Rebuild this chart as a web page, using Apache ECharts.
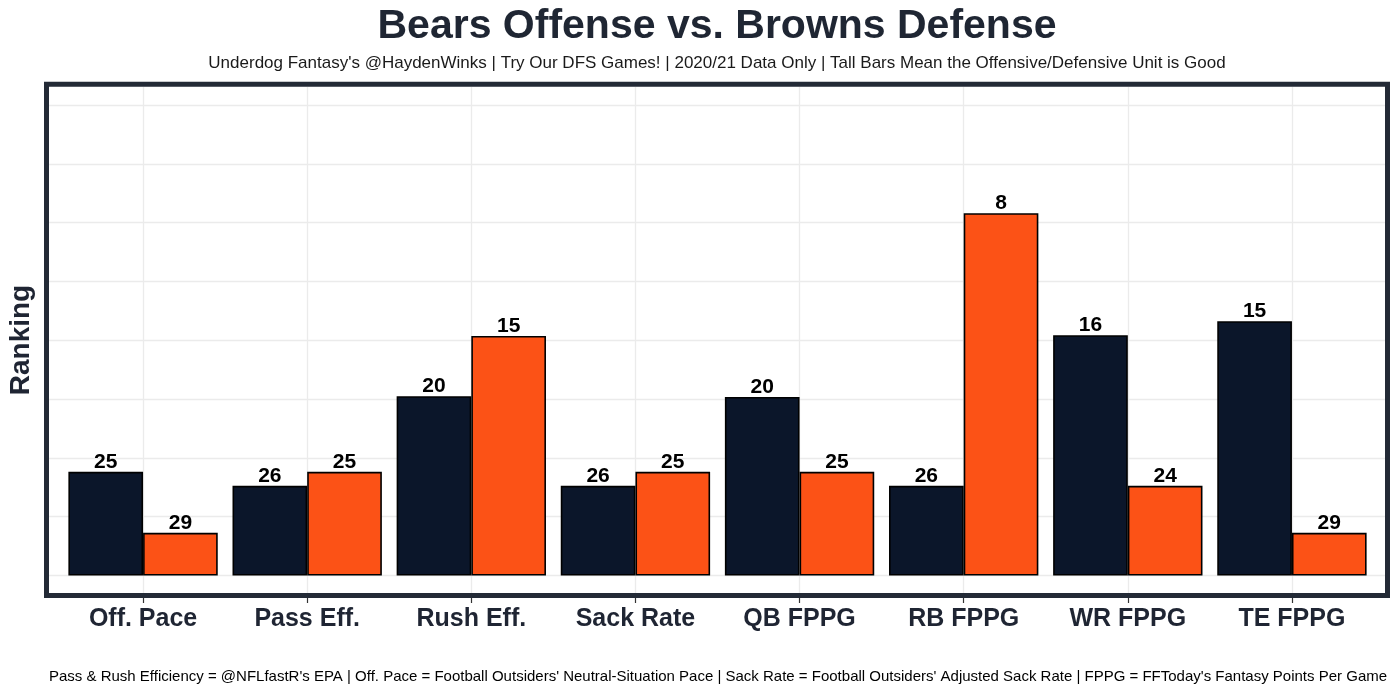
<!DOCTYPE html>
<html>
<head>
<meta charset="utf-8">
<script src="https://cdn.jsdelivr.net/npm/echarts@6/dist/echarts.min.js"></script>
<style>
html,body{margin:0;padding:0;background:#fff;}
#chart{width:1400px;height:694px;}
</style>
</head>
<body>
<div id="chart"></div>
<script>
// ---- data ----
const categories = ['Off. Pace', 'Pass Eff.', 'Rush Eff.', 'Sack Rate', 'QB FPPG', 'RB FPPG', 'WR FPPG', 'TE FPPG'];
const offenseValues = [7.05, 6.1, 12.2, 6.1, 12.15, 6.1, 16.35, 17.3];
const defenseValues = [2.9, 7.05, 16.3, 7.05, 7.05, 24.65, 6.1, 2.9];
const offenseRanks = [25, 26, 20, 26, 20, 26, 16, 15];
const defenseRanks = [29, 25, 15, 25, 25, 8, 24, 29];
const yGridValues = [0, 4, 8, 12, 16, 20, 24, 28, 32];

const titleText = 'Bears Offense vs. Browns Defense';
const subtitleText = "Underdog Fantasy's @HaydenWinks | Try Our DFS Games! | 2020/21 Data Only | Tall Bars Mean the Offensive/Defensive Unit is Good";
const footerText = "Pass & Rush Efficiency = @NFLfastR's EPA | Off. Pace = Football Outsiders' Neutral-Situation Pace | Sack Rate = Football Outsiders' Adjusted Sack Rate | FPPG = FFToday's Fantasy Points Per Game";
const yTitle = 'Ranking';

// ---- chart ----
const FONT = '"Liberation Sans", Arial, Helvetica, sans-serif';
const chart = echarts.init(document.getElementById('chart'), null, {renderer: 'canvas'});
const yMin = -1.19, yMax = 33.23;

const gridLineData = categories.map((c, i) => ({xAxis: i}))
  .concat(yGridValues.map(v => ({yAxis: v})));

const labelStyle = {
  show: true, position: 'top', distance: -1,
  fontFamily: FONT, fontWeight: 'bold', fontSize: 21, color: '#000'
};

chart.setOption({
  animation: false,
  backgroundColor: '#fff',
  grid: [
    {left: 49, right: 15, top: 87, bottom: 101},
    {left: 61, right: 26, top: 87, bottom: 101}
  ],
  xAxis: [
    {gridIndex: 0, type: 'value', min: -0.573, max: 7.567, show: false},
    {gridIndex: 1, type: 'category', data: categories, position: 'bottom',
      axisLine: {show: false, onZero: false},
      axisTick: {show: true, alignWithLabel: true, length: 10, lineStyle: {color: '#333', width: 1.2}},
      axisLabel: {margin: 14, fontFamily: FONT, fontWeight: 'bold', fontSize: 25, color: '#1f2533'},
      splitLine: {show: false}}
  ],
  yAxis: [
    {gridIndex: 0, type: 'value', min: yMin, max: yMax, show: false},
    {gridIndex: 1, type: 'value', min: yMin, max: yMax, show: false}
  ],
  series: [
    {type: 'line', xAxisIndex: 0, yAxisIndex: 0, data: [], z: 0, silent: true,
      markLine: {silent: true, z: 0, symbol: ['none', 'none'], label: {show: false},
        lineStyle: {color: '#ebebeb', width: 1.3, type: 'solid'},
        data: gridLineData}},
    {name: 'Offense', type: 'bar', xAxisIndex: 1, yAxisIndex: 1, z: 2,
      data: offenseValues, barGap: '0%', barCategoryGap: '9%',
      itemStyle: {color: '#0b162a', borderColor: '#000', borderWidth: 1.6},
      label: Object.assign({formatter: p => String(offenseRanks[p.dataIndex])}, labelStyle)},
    {name: 'Defense', type: 'bar', xAxisIndex: 1, yAxisIndex: 1, z: 2,
      data: defenseValues, barGap: '0%', barCategoryGap: '9%',
      itemStyle: {color: '#fc5216', borderColor: '#000', borderWidth: 1.6},
      label: Object.assign({formatter: p => String(defenseRanks[p.dataIndex])}, labelStyle)}
  ],
  graphic: [
    {type: 'rect', z: 100, silent: true,
      shape: {x: 46.5, y: 84.2, width: 1341, height: 511.3},
      style: {fill: null, stroke: '#232a36', lineWidth: 5}},
    {type: 'text', z: 100, x: 717, y: 27,
      style: {text: titleText, textAlign: 'center', textVerticalAlign: 'middle',
        font: 'bold 41px ' + FONT, fill: '#1f2633'}},
    {type: 'text', z: 100, x: 717, y: 63,
      style: {text: subtitleText, textAlign: 'center', textVerticalAlign: 'middle',
        font: '17px ' + FONT, fill: '#1a1a1a'}},
    {type: 'text', z: 100, x: 718, y: 677,
      style: {text: footerText, textAlign: 'center', textVerticalAlign: 'middle',
        font: '15px ' + FONT, fill: '#000'}},
    {type: 'text', z: 100, x: 21, y: 340, rotation: Math.PI / 2,
      style: {text: yTitle, textAlign: 'center', textVerticalAlign: 'middle',
        font: 'bold 28px ' + FONT, fill: '#1f2533'}}
  ]
});
</script>
</body>
</html>
